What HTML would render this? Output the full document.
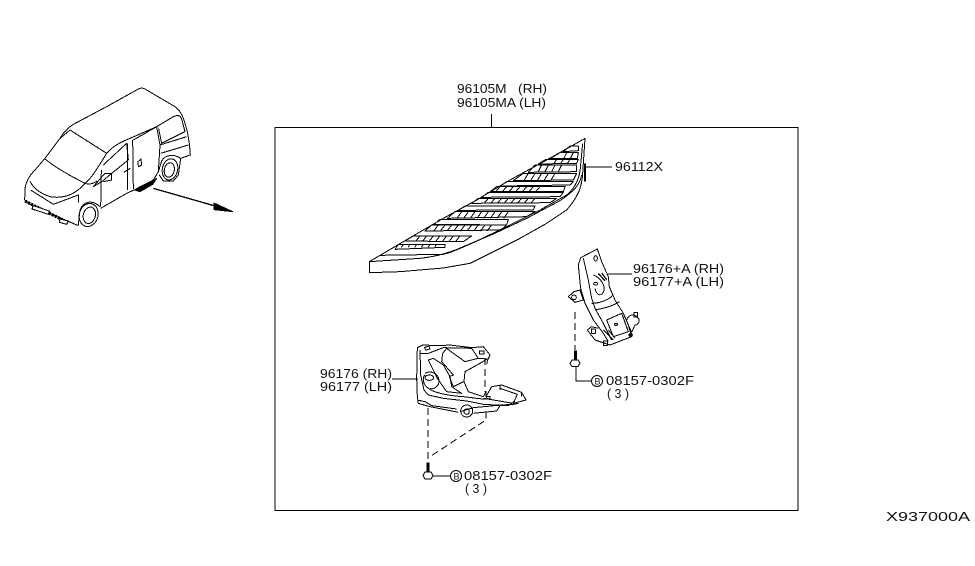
<!DOCTYPE html>
<html><head><meta charset="utf-8"><style>
html,body{margin:0;padding:0;background:#fff}
svg{display:block}
text{font-family:"Liberation Sans",sans-serif;font-size:13px;fill:#111;stroke:none}
.z{fill:none;stroke:#000;stroke-width:3;stroke-linejoin:round;shape-rendering:crispEdges}
</style></head><body>
<svg width="975" height="566" viewBox="0 0 975 566" xmlns="http://www.w3.org/2000/svg">
<rect width="975" height="566" fill="#fff"/>
<g fill="none" stroke="#000" stroke-width="1" shape-rendering="crispEdges">
<rect x="275" y="127.500" width="523" height="383"/>
<path d="M491.500 114V128M585 167H612M632 274H608M392 379H418M576 367V381H591M432 476H450"/>
<path d="M575 312V350M428 408V458L486 420V412M485 358V392" stroke-dasharray="7 4"/>
</g>
<!-- van -->
<g transform="translate(10,75) scale(.33333)" class="z">
<path d="M44,375L45,340C50,315 60,300 75,285L105,250 150,190C160,172 172,160 190,148L290,95 385,42C392,38 400,38 410,45L490,92C505,100 515,115 522,135L532,170 538,205 541,240 512,250"/>
<path d="M44,375L70,395 130,420 205,452"/>
<path d="M180,165L290,235M105,252C140,280 185,305 225,325M150,190L180,165"/>
<path d="M290,235C310,212 335,200 360,190L440,155 490,125C505,118 512,122 516,135L525,170 455,205 446,160"/>
<path d="M225,325C245,310 265,275 290,235M60,318C70,340 90,355 120,365 160,372 195,360 225,325M225,325C240,330 250,325 262,318"/>
<path d="M280,270L350,205 355,255 305,295 278,318 250,335 285,295 305,295 305,315 280,320M274,285L272,395M352,205L352,345M368,195L370,342M370,195L440,155 450,210 445,290 430,315 372,345"/>
<path d="M272,400L350,355 372,345M450,210L530,185M452,235L535,210M384,260L393,252 395,270 385,275ZM342,292L360,280M62,345L130,388 205,360 205,382"/>
<path d="M445,290L455,258C465,240 490,235 512,250L505,300 490,318 460,318 448,300"/>
<ellipse cx="480" cy="283" rx="23" ry="32" transform="rotate(12 480 283)"/>
<ellipse cx="478" cy="285" rx="15" ry="22" transform="rotate(12 478 285)"/>
<path d="M205,450L210,405C220,380 245,372 270,395"/>
<ellipse cx="236" cy="420" rx="28" ry="35" transform="rotate(15 236 420)"/>
<ellipse cx="238" cy="421" rx="18" ry="25" transform="rotate(15 238 421)"/>
<path d="M45,378L165,438" stroke-width="10" stroke-dasharray="7 3"/>
<path d="M70,392L118,408 115,418 66,402ZM150,432L175,438 170,448 148,442Z" fill="#fff"/>
<path d="M375,345L440,310 428,328 390,350Z" fill="#000"/>
<path d="M430,340L615,393" stroke-width="4"/>
<path d="M612,384L668,410 612,404Z" fill="#000"/>
</g>
<!-- step -->
<g transform="translate(360,130) scale(.33333)" class="z">
<path d="M28,395L130,335 250,265 350,210 450,150 560,90 640,45 675,25 668,130C666,170 655,200 620,240 L560,280 480,325 400,365 330,400 250,414 120,425 28,428Z"/>
<path d="M28,395L180,385C230,380 270,368 310,350L400,312 500,265 600,212C640,185 660,165 665,135"/>
<path d="M62,376L250,373C275,368 300,355 340,338L440,290 540,240 620,195C645,175 655,150 660,125L668,40"/>
<path d="M675,100V155" stroke-width="5"/>
<path d="M115,343H255V352L105,358ZM160,318H335L310,335 135,333ZM215,285H440L425,300 195,303ZM240,268H445L440,285 222,283ZM285,245H525L500,260 262,265ZM315,228H525L520,240 295,241ZM355,205H590L570,218 335,220ZM385,187H610L600,200 365,202ZM410,170H615L610,185 392,184ZM440,155H640L630,165 420,168ZM490,130H650L640,150 460,152ZM525,105H650L650,125 505,127ZM558,88H655L650,100 535,102ZM600,68H655L652,85 570,86ZM630,48H655V62L610,65Z"/>
<path d="M130,343l-6,9m26,-9l-6,9m26,-9l-6,9m26,-9l-6,9m26,-9l-6,9m26,-9l-6,9M180,318l-12,15m32,-15l-12,15m32,-15l-12,15m32,-15l-12,15m32,-15l-12,15m32,-15l-12,15m32,-15l-12,15M235,285l-14,18m34,-18l-14,18m34,-18l-14,18m34,-18l-14,18m34,-18l-14,18m34,-18l-14,18m34,-18l-14,18m34,-18l-14,18m34,-18l-14,18M305,245l-14,20m34,-20l-14,20m34,-20l-14,20m34,-20l-14,20m34,-20l-14,20m34,-20l-14,20m34,-20l-14,20m34,-20l-14,20M385,205l-12,14m32,-14l-12,14m32,-14l-12,14m32,-14l-12,14m32,-14l-12,14m32,-14l-12,14m32,-14l-12,14m32,-14l-12,14M420,170l-12,14m32,-14l-12,14m32,-14l-12,14m32,-14l-12,14m32,-14l-12,14m32,-14l-12,14m32,-14l-12,14M505,130l-12,20m32,-20l-12,20m32,-20l-12,20m32,-20l-12,20m32,-20l-12,20M545,105l-10,20m30,-20l-10,20m30,-20l-10,20m30,-20l-10,20M590,88l-8,12m28,-12l-8,12m28,-12l-8,12M620,68l-8,16m28,-16l-8,16"/>
</g>
<!-- lower bracket -->
<g transform="translate(400,335) scale(.33333)" class="z">
<path d="M52,38L68,30 120,32 150,30 215,38 250,35 270,60 262,78 260,88M52,38L50,130 52,185 55,205 90,215 175,232M60,45L62,120 72,165 85,180 130,190 200,198 250,208 325,212M62,55L85,55 130,38 215,40 235,70 262,72"/>
<rect x="75" y="35" width="14" height="9" transform="rotate(-15 82 40)"/>
<rect x="238" y="48" width="14" height="9"/>
<path d="M128,55L140,40 160,55 195,80 235,70 262,72 240,85 195,110 192,140 205,170 250,185 258,170 258,185 275,155 305,150 365,172 378,195 340,205 250,190M128,55L125,80 160,120 148,125 160,155 190,140M85,75L100,70 130,90 150,125 155,155 185,175 140,170 112,130Z"/>
<path d="M75,115C90,105 115,115 117,135 118,155 100,165 90,160M75,120C65,130 70,150 85,160 100,172 140,182 190,185 235,190 255,195 265,190"/>
<ellipse cx="88" cy="128" rx="13" ry="8"/>
<path d="M52,195L75,200 95,212 170,222M180,230L220,218 305,210 340,208 355,205M220,235L290,228 300,212"/>
<circle cx="200" cy="228" r="18"/><circle cx="200" cy="230" r="8"/>
<path d="M300,150V165M365,172V185M260,185H270V192H258Z"/>
<path d="M300,160L352,178 340,205M325,212L345,198"/>
</g>
<!-- upper bracket -->
<g transform="translate(560,245) scale(.33333)" class="z">
<path d="M62,38L112,12 125,50 145,95 148,125 165,165 190,205 205,240 215,275 150,300 135,295 105,285 82,255 95,245 115,250M62,38L55,60 62,130 75,175 100,225 130,265 145,290M70,40L85,105 95,160 105,190 130,235 155,285"/>
<path d="M42,140L60,135 70,165 45,172 25,155Z"/>
<circle cx="42" cy="157" r="7"/>
<ellipse cx="107" cy="40" rx="5" ry="8"/>
<path d="M100,90C115,95 135,115 132,135 128,155 110,155 105,130M95,175C120,175 145,165 160,150M105,195C130,190 155,185 178,170M140,225L185,205 205,260 160,275 140,225"/>
<path d="M115,85L135,108M125,84L140,104" stroke-width="4"/>
<ellipse cx="107" cy="116" rx="6" ry="4"/>
<ellipse cx="168" cy="238" rx="5" ry="3"/>
<path d="M200,225C205,210 220,205 230,215 245,225 235,240 225,240L215,262 205,240"/>
<rect x="222" y="202" width="11" height="14"/>
<circle cx="212" cy="270" r="5" fill="#000"/>
<rect x="95" y="252" width="11" height="13"/><rect x="130" y="288" width="12" height="13"/>
<path d="M130,255L160,285M145,255L165,280"/>
</g>
<!-- bolts -->
<g stroke="#000" stroke-width="1">
<rect x="574.500" y="351" width="2" height="9" fill="#000"/>
<path d="M572 360h6l2 3-2 3.500h-6l-2-3z" fill="#fff"/>
<rect x="427" y="463" width="2" height="9" fill="#000"/>
<path d="M425 472h6l2 3.500-2 3.500h-6l-2-3.500z" fill="#fff"/>
</g>
<circle cx="456" cy="476" r="5.500" fill="#fff" stroke="#000" stroke-width="1"/>
<circle cx="597" cy="381" r="5.500" fill="#fff" stroke="#000" stroke-width="1"/>
<text x="453.500" y="479.500" style="font-size:9px">B</text>
<text x="594.500" y="384.500" style="font-size:9px">B</text>
<text x="457" y="93" textLength="90" lengthAdjust="spacingAndGlyphs" xml:space="preserve">96105M   (RH)</text>
<text x="457" y="107" textLength="89" lengthAdjust="spacingAndGlyphs" xml:space="preserve">96105MA (LH)</text>
<text x="615" y="171" textLength="48" lengthAdjust="spacingAndGlyphs">96112X</text>
<text x="633" y="273" textLength="91" lengthAdjust="spacingAndGlyphs" xml:space="preserve">96176+A (RH)</text>
<text x="633" y="286" textLength="91" lengthAdjust="spacingAndGlyphs" xml:space="preserve">96177+A (LH)</text>
<text x="320" y="378" textLength="72" lengthAdjust="spacingAndGlyphs" xml:space="preserve">96176 (RH)</text>
<text x="320" y="391" textLength="72" lengthAdjust="spacingAndGlyphs" xml:space="preserve">96177 (LH)</text>
<text x="606" y="385" textLength="88" lengthAdjust="spacingAndGlyphs">08157-0302F</text>
<text x="607" y="398" textLength="22" lengthAdjust="spacingAndGlyphs" xml:space="preserve">( 3 )</text>
<text x="464" y="480" textLength="88" lengthAdjust="spacingAndGlyphs">08157-0302F</text>
<text x="465" y="493" textLength="22" lengthAdjust="spacingAndGlyphs" xml:space="preserve">( 3 )</text>
<text x="886" y="521" textLength="84" lengthAdjust="spacingAndGlyphs">X937000A</text>
</svg>
</body></html>
